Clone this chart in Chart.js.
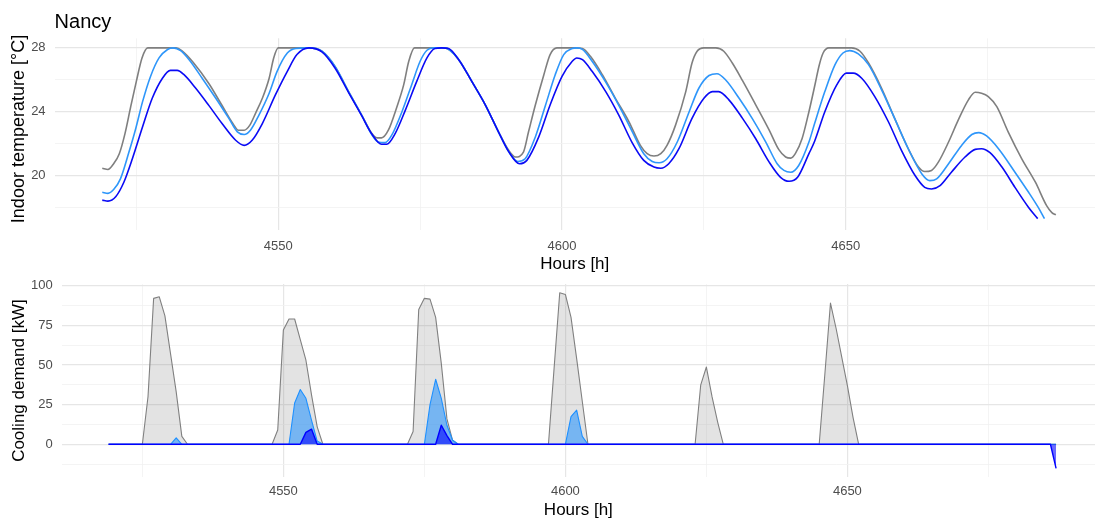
<!DOCTYPE html>
<html>
<head>
<meta charset="utf-8">
<script src="https://cdn.jsdelivr.net/npm/chart.js@4.4.0/dist/chart.umd.min.js"></script>
<style>
  html, body { margin: 0; padding: 0; background: #fff; overflow: hidden; width: 1095px; height: 520px; }
  canvas { position: absolute; left: 0; }
  #tempChart { top: 0; }
  #coolChart { top: 270px; }
</style>
</head>
<body>
<canvas id="tempChart" width="1095" height="280"></canvas>
<canvas id="coolChart" width="1095" height="260"></canvas>
<script>
// ---- Indoor temperature [°C] by hour, one list of [hour, value] per case ----
const tempGrey = [[4519,20.46],[4520,20.38],[4521,20.74],[4522,21.37],[4523,22.63],[4524,24.3],[4525,25.9],[4526,27.37],[4527,28],[4532,28],[4533,27.83],[4535,27.1],[4537.8,25.75],[4540,24.45],[4542,23.26],[4543,22.84],[4544,22.84],[4545,23.16],[4546,23.9],[4547.2,24.84],[4548.4,26.1],[4549.2,27.37],[4550,28],[4555.4,28],[4557.7,27.79],[4560,26.84],[4562.4,25.26],[4564.7,23.79],[4566.5,22.63],[4567.4,22.36],[4568.2,22.36],[4569.4,22.84],[4570.9,24.3],[4572.1,25.68],[4573,27.16],[4574,28],[4579.4,28],[4581.8,27.26],[4584.1,25.9],[4586.5,24.42],[4588.8,22.74],[4590.6,21.58],[4591.8,21.16],[4593.2,21.47],[4594.1,22.74],[4595.3,24.42],[4596.8,26.32],[4597.9,27.58],[4599.1,28],[4602.4,28],[4603.6,27.96],[4605,27.47],[4607.1,26.32],[4609.4,24.84],[4611.8,23.37],[4613.8,21.89],[4615,21.37],[4616.2,21.22],[4617.4,21.37],[4618.5,21.89],[4620,23.16],[4621.8,25.26],[4622.9,27.05],[4623.8,27.79],[4625,28],[4627.1,28],[4628.5,27.79],[4630,27.05],[4631.8,25.95],[4634.1,24.45],[4636.5,22.85],[4638.2,21.62],[4639.4,21.16],[4640.3,21.09],[4641.1,21.37],[4642.3,22.32],[4643.5,24],[4644.6,25.75],[4645.3,26.9],[4646,27.68],[4647,28],[4651,28],[4652.5,27.79],[4654,27.05],[4656.3,25.47],[4658.6,23.58],[4661,21.68],[4662.8,20.53],[4663.9,20.25],[4665.1,20.32],[4666.3,20.84],[4668.1,22.1],[4669.8,23.47],[4671.6,24.74],[4672.8,25.22],[4673.9,25.16],[4675.1,24.95],[4676.6,24.32],[4678.6,22.74],[4681,21.05],[4683.4,19.58],[4685.4,18.1],[4686.3,17.68],[4687,17.54]];

const tempLight = [[4519,18.95],[4520,18.88],[4521,19.12],[4522.2,19.79],[4523.7,21.47],[4524.9,22.95],[4526.1,24.63],[4527.5,26.21],[4529,27.37],[4530.5,27.9],[4531.5,28],[4532.8,27.83],[4534.3,27.26],[4536.6,26.1],[4539,24.84],[4541.3,23.58],[4542.8,22.74],[4544,22.57],[4545.1,22.84],[4546.6,23.79],[4548.4,25.16],[4549.8,26.53],[4551.6,27.68],[4553.1,27.96],[4555.4,28],[4557.7,27.79],[4560,26.84],[4562.4,25.26],[4564.7,23.79],[4566.5,22.55],[4567.6,22.1],[4568.8,22.06],[4570,22.53],[4571.8,24],[4573.5,25.68],[4575,27.16],[4576.2,27.85],[4577.4,28],[4579.4,28],[4581.8,27.26],[4584.1,25.9],[4586.5,24.42],[4588.8,22.74],[4590.6,21.5],[4592.2,20.88],[4593.5,21.05],[4595.3,22.42],[4597.1,24.42],[4598.8,26.32],[4600.3,27.58],[4601.8,27.96],[4602.6,28],[4603.6,27.9],[4605.3,27.16],[4607.7,25.85],[4610,24.4],[4612.3,22.8],[4614.4,21.37],[4615.9,20.88],[4617.1,20.8],[4618.5,21.05],[4620.3,22.1],[4622.4,24],[4624.1,25.47],[4625.9,26.27],[4627.3,26.38],[4628.8,26],[4631.2,24.84],[4633.5,23.58],[4635.9,22.1],[4637.9,20.74],[4639.1,20.32],[4640.3,20.21],[4641.7,20.63],[4643.5,22.1],[4644.5,23.26],[4646.3,25.26],[4648.1,26.95],[4649.5,27.68],[4650.7,27.83],[4652.2,27.62],[4654,26.95],[4656.3,25.37],[4658.6,23.58],[4661,21.68],[4663.4,20.1],[4664.8,19.68],[4666,19.79],[4668.1,20.74],[4670.4,21.89],[4672.2,22.57],[4673.4,22.69],[4674.8,22.48],[4676.9,21.68],[4679.8,20.21],[4682.2,18.95],[4683.9,18],[4685,17.3]];

const tempBlue = [[4519,18.46],[4520,18.4],[4521.4,18.69],[4522.8,19.58],[4524.3,21.05],[4526.1,23.05],[4527.8,24.84],[4529.6,26.1],[4531,26.59],[4532.2,26.59],[4533.4,26.32],[4535.4,25.5],[4537.8,24.38],[4540.1,23.26],[4542.5,22.21],[4544,21.89],[4545.4,22.21],[4547.2,23.26],[4549.5,25.05],[4551.6,26.53],[4553.3,27.58],[4555.4,28],[4557.7,27.75],[4560,26.74],[4562.4,25.2],[4564.7,23.75],[4566.5,22.6],[4568.2,21.96],[4569.1,21.96],[4570.6,22.63],[4572.4,24.1],[4574.4,25.9],[4576.2,27.37],[4577.6,27.96],[4578.8,28],[4580,27.96],[4581.8,27.26],[4584.1,25.9],[4586.5,24.42],[4588.8,22.74],[4590.6,21.5],[4592.5,20.74],[4593.8,20.95],[4595.9,22.42],[4597.9,24.42],[4600,26.21],[4601.8,27.16],[4602.6,27.37],[4603.6,27.26],[4605.3,26.53],[4607.7,25.26],[4610,23.79],[4612.3,22.1],[4614.4,20.95],[4616.2,20.53],[4617.4,20.46],[4618.8,20.74],[4620.6,21.68],[4622.9,23.58],[4625,24.84],[4626.5,25.26],[4627.6,25.26],[4629.4,24.74],[4631.8,23.58],[4634.1,22.32],[4636.5,20.84],[4638.5,19.89],[4640,19.64],[4641.5,19.89],[4643.5,21.37],[4644.5,22.15],[4646.3,24],[4648.4,25.68],[4650.1,26.42],[4651.3,26.42],[4652.8,26.1],[4655.1,24.95],[4657.5,23.37],[4659.8,21.58],[4662.2,20],[4663.9,19.26],[4665.1,19.16],[4666.6,19.37],[4668.6,20.21],[4671,21.16],[4672.8,21.64],[4673.9,21.68],[4675.4,21.43],[4677.5,20.53],[4679.8,19.26],[4682.2,18],[4683.8,17.3]];

// ---- Cooling demand [kW] by hour ----
const coolGrey = [[4519,0],[4525,0],[4526,30],[4527,92],[4528,93],[4529,81],[4530,57],[4531,33],[4532,5],[4533,0],[4548,0],[4549,9],[4550,72],[4551,79],[4552,79],[4553,66],[4554,53],[4555,31],[4556,11],[4557,0],[4572,0],[4573,8],[4574,85],[4575,92],[4576,91.5],[4577,80],[4578,51],[4579,16],[4580,2.5],[4581,0],[4597,0],[4598,48],[4599,95.5],[4600,94.5],[4601,80],[4602,54],[4603,27],[4604,0],[4623,0],[4624,37.5],[4625,48.7],[4626,30],[4627,14],[4628,0],[4645,0],[4646,44],[4647,89],[4648,73],[4649,55],[4650,37],[4651,17],[4652,0],[4687,0]];

const coolLight = [[4519,0],[4530,0],[4531,4],[4532,0],[4551,0],[4552,26],[4553,34.5],[4554,29],[4555,15],[4556,2],[4557,0],[4575,0],[4576,25],[4577,41],[4578,29],[4579,12],[4580,2.5],[4581,0],[4600,0],[4601,17.5],[4602,21.5],[4603,5],[4604,0],[4687,0]];

const coolBlue = [[4519,0],[4553,0],[4554,7.5],[4555,9.5],[4556,0],[4577,0],[4578,12],[4579,5.5],[4580,0],[4686,0],[4687,-15.2]];

// ---- axis ticks ----
const hourGrid = [4525, 4550, 4575, 4600, 4625, 4650, 4675];
const hourLabels = [4550, 4600, 4650];
const tempGrid = [18, 20, 22, 24, 26, 28];
const tempLabels = [20, 24, 28];
const coolGrid = [-12.5, 0, 12.5, 25, 37.5, 50, 62.5, 75, 87.5, 100];
const coolLabels = [0, 25, 50, 75, 100];

const FONT = "'Liberation Sans', Arial, sans-serif";
Chart.defaults.font.family = FONT;
Chart.defaults.color = '#4D4D4D';

const toPoints = pairs => pairs.map(([x, y]) => ({ x, y }));

// Plot title above the first panel and its rotated y-axis title
const panelText = {
  id: 'panelText',
  afterDraw(chart, args, opts) {
    if (!opts) return;
    const ctx = chart.ctx;
    ctx.save();
    ctx.fillStyle = '#000';
    if (opts.title) {
      ctx.font = opts.title.size + 'px ' + FONT;
      ctx.textBaseline = 'alphabetic';
      ctx.textAlign = 'left';
      ctx.fillText(opts.title.text, chart.chartArea.left, opts.title.baseline);
    }
    if (opts.yTitle) {
      ctx.font = opts.yTitle.size + 'px ' + FONT;
      ctx.translate(opts.yTitle.x, opts.yTitle.y);
      ctx.rotate(-Math.PI / 2);
      ctx.textBaseline = 'middle';
      ctx.textAlign = 'center';
      ctx.fillText(opts.yTitle.text, 0, 0);
    }
    ctx.restore();
  }
};

function gridColor(labels) {
  return ctx => (ctx.tick && labels.includes(ctx.tick.value)) ? '#E6E6E6' : '#F1F1F1';
}
function gridWidth(labels) {
  return ctx => (ctx.tick && labels.includes(ctx.tick.value)) ? 1.2 : 0.8;
}

function xScale(minH, maxH, height, tickPad, titlePad) {
  return {
    type: 'linear',
    min: minH, max: maxH,
    border: { display: false },
    grid: { color: gridColor(hourLabels), lineWidth: gridWidth(hourLabels), drawTicks: false },
    afterBuildTicks: s => { s.ticks = hourGrid.map(v => ({ value: v })); },
    afterFit: s => { s.height = height; s.paddingLeft = 0; s.paddingRight = 0; },
    ticks: {
      autoSkip: false, maxRotation: 0, padding: tickPad,
      font: { size: 13 }, color: '#4D4D4D',
      callback: v => hourLabels.includes(v) ? String(v) : ''
    },
    title: { display: true, text: 'Hours [h]', color: '#000', font: { size: 17 }, padding: { top: 0, bottom: titlePad } }
  };
}

function yScale(minV, maxV, width, grid, labels, title) {
  return {
    type: 'linear',
    min: minV, max: maxV,
    border: { display: false },
    grid: { color: gridColor(labels), lineWidth: gridWidth(labels), drawTicks: false },
    afterBuildTicks: s => { s.ticks = grid.map(v => ({ value: v })); },
    afterFit: s => { s.width = width; s.paddingTop = 0; s.paddingBottom = 0; },
    ticks: {
      autoSkip: false, padding: 9,
      font: { size: 13 }, color: '#4D4D4D',
      callback: v => labels.includes(v) ? String(v) : ''
    },
    title: { display: !!title, text: title || '', color: '#000', font: { size: 17 }, padding: { top: 9.3, bottom: 0 } }
  };
}

const common = {
  responsive: false,
  animation: false,
  devicePixelRatio: 1,
  events: [],
  elements: { point: { radius: 0 } }
};

// Upper panel: indoor temperature lines
new Chart(document.getElementById('tempChart'), {
  type: 'line',
  data: {
    datasets: [
      { label: 'Case 1', data: toPoints(tempGrey), borderColor: '#7F7F7F', borderWidth: 1.6, order: 3 },
      { label: 'Case 2', data: toPoints(tempLight), borderColor: '#2E96FA', borderWidth: 1.6, order: 2 },
      { label: 'Case 3', data: toPoints(tempBlue), borderColor: '#0A0AF5', borderWidth: 1.6, order: 1 }
    ].map(d => Object.assign(d, { fill: false, cubicInterpolationMode: 'monotone', borderJoinStyle: 'round' }))
  },
  options: Object.assign({}, common, {
    layout: { padding: { top: 38.3, left: 0, right: 0, bottom: 0 } },
    plugins: {
      legend: { display: false }, tooltip: { enabled: false },
      panelText: {
        title: { text: 'Nancy', size: 20, baseline: 27.5 },
        yTitle: { text: 'Indoor temperature [°C]', size: 18, x: 19.5, y: 129 }
      }
    },
    scales: {
      x: xScale(4510.6, 4693.9, 280 - 229.8, 8.5, 5.8),
      y: yScale(16.6, 28.6, 54.6, tempGrid, tempLabels, null)
    }
  }),
  plugins: [panelText]
});

// Lower panel: cooling demand areas
new Chart(document.getElementById('coolChart'), {
  type: 'line',
  data: {
    datasets: [
      { label: 'Case 1', data: toPoints(coolGrey), borderColor: '#808080', backgroundColor: 'rgba(128,128,128,0.22)', borderWidth: 1.1, order: 3 },
      { label: 'Case 2', data: toPoints(coolLight), borderColor: '#1E90FF', backgroundColor: 'rgba(30,144,255,0.55)', borderWidth: 1.1, order: 2 },
      { label: 'Case 3', data: toPoints(coolBlue), borderColor: '#0000FF', backgroundColor: 'rgba(0,0,255,0.58)', borderWidth: 1.4, order: 1 }
    ].map(d => Object.assign(d, { fill: 'origin', tension: 0, borderJoinStyle: 'round' }))
  },
  options: Object.assign({}, common, {
    layout: { padding: { top: 14.1, left: 0, right: 0, bottom: 0 } },
    plugins: { legend: { display: false }, tooltip: { enabled: false } },
    scales: {
      x: xScale(4510.7, 4693.9, 260 - 207.1, 6.5, 9.8),
      y: yScale(-20.7, 101, 61.7, coolGrid, coolLabels, 'Cooling demand [kW]')
    }
  })
});
</script>
</body>
</html>
